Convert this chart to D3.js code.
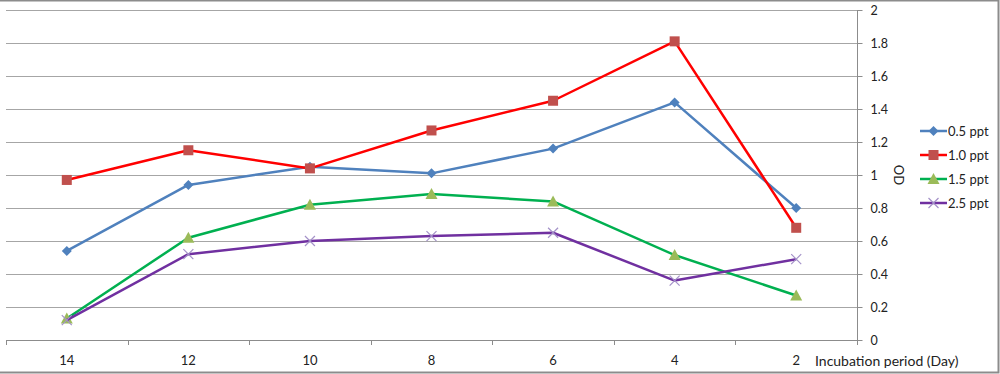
<!DOCTYPE html>
<html>
<head>
<meta charset="utf-8">
<script src="https://cdnjs.cloudflare.com/ajax/libs/d3/7.8.5/d3.min.js"></script>
<style>
  body { margin: 0; background: #fff; }
  svg { display: block; font-family: Lato, "Open Sans", sans-serif; }
</style>
</head>
<body>
<svg id="chart" width="1000" height="374"></svg>
<script>
// data
const days = ["14", "12", "10", "8", "6", "4", "2"];
const od05 = [0.54, 0.94, 1.05, 1.01, 1.16, 1.44, 0.80];
const od10 = [0.97, 1.15, 1.04, 1.27, 1.45, 1.81, 0.68];
const od15 = [0.13, 0.62, 0.82, 0.885, 0.84, 0.515, 0.27];
const od25 = [0.12, 0.52, 0.60, 0.63, 0.65, 0.36, 0.49];
const yTicks = [0, 0.2, 0.4, 0.6, 0.8, 1, 1.2, 1.4, 1.6, 1.8, 2];

const series = [
  { name: "0.5 ppt", values: od05, line: "#4f81bd", fill: "#4f81bd", marker: "diamond" },
  { name: "1.0 ppt", values: od10, line: "#ff0000", fill: "#c0504d", marker: "square" },
  { name: "1.5 ppt", values: od15, line: "#00b050", fill: "#9bbb59", marker: "triangle" },
  { name: "2.5 ppt", values: od25, line: "#7030a0", fill: "#a492c8", marker: "cross" }
];

const svg = d3.select("#chart");

// outer frame
svg.append("rect").attr("x", -2).attr("y", 0.5).attr("width", 1000.5).attr("height", 372)
  .attr("fill", "none").attr("stroke", "#8c8c8c").attr("stroke-width", 2);

const plotLeft = 6, plotRight = 857, plotTop = 10, plotBottom = 340;

const x = d3.scaleBand().domain(days).range([plotLeft, plotRight]);
const y = d3.scaleLinear().domain([0, 2]).range([plotBottom, plotTop]);

// gridlines
svg.append("g").selectAll("line").data(yTicks.filter(d => d > 0)).enter().append("line")
  .attr("x1", plotLeft).attr("x2", plotRight)
  .attr("y1", d => Math.round(y(d)) + 0.5).attr("y2", d => Math.round(y(d)) + 0.5)
  .attr("stroke", "#a6a6a6").attr("stroke-width", 1.2);

// y axis on the right
const yAxis = svg.append("g").attr("transform", `translate(${plotRight + 0.5},0)`)
  .call(d3.axisRight(y).tickValues(yTicks).tickSize(5).tickPadding(8).tickFormat(d3.format("~g")));
yAxis.select(".domain").attr("stroke", "#8c8c8c").attr("d", `M0,${plotTop}V${plotBottom}`);
yAxis.selectAll(".tick line").attr("stroke", "#8c8c8c");
yAxis.selectAll("text").attr("font-size", 12.5).attr("fill", "#222").attr("font-family", "Lato, sans-serif");

// x axis
const xAxis = svg.append("g").attr("transform", `translate(0,${plotBottom + 0.5})`)
  .call(d3.axisBottom(x).tickSize(0).tickPadding(15));
xAxis.select(".domain").attr("stroke", "#8c8c8c").attr("d", `M${plotLeft},0H${plotRight}`);
xAxis.selectAll("text").attr("font-size", 13).attr("fill", "#222").attr("font-family", "Lato, sans-serif");
// category boundary ticks
svg.append("g").selectAll("line").data(days.concat(["end"])).enter().append("line")
  .attr("x1", (d, i) => Math.round(i < days.length ? x(d) : plotRight) + 0.5)
  .attr("x2", (d, i) => Math.round(i < days.length ? x(d) : plotRight) + 0.5)
  .attr("y1", plotBottom).attr("y2", plotBottom + 5)
  .attr("stroke", "#8c8c8c");

// axis titles
svg.append("text").attr("x", 815).attr("y", 366).attr("font-size", 14).attr("fill", "#222")
  .text("Incubation period (Day)");
svg.append("text").attr("transform", "translate(894,175) rotate(90)")
  .attr("text-anchor", "middle").attr("font-size", 13).attr("fill", "#222").text("OD");

function drawMarker(g, type, fill) {
  if (type === "diamond") {
    g.append("path").attr("d", "M0,-5L5,0L0,5L-5,0Z").attr("fill", fill);
  } else if (type === "square") {
    g.append("rect").attr("x", -5).attr("y", -5).attr("width", 10).attr("height", 10).attr("fill", fill);
  } else if (type === "triangle") {
    g.append("path").attr("d", "M0,-6L6,5L-6,5Z").attr("fill", fill);
  } else {
    g.append("path").attr("d", "M-5,-5L5,5M-5,5L5,-5").attr("stroke", fill).attr("stroke-width", 1.2);
  }
}

const line = d3.line().x((d, i) => x(days[i]) + x.bandwidth() / 2).y(d => y(d));

series.forEach(s => {
  svg.append("path").datum(s.values).attr("fill", "none")
    .attr("stroke", s.line).attr("stroke-width", 2.5).attr("stroke-linejoin", "round").attr("d", line);
  s.values.forEach((v, i) => {
    const g = svg.append("g").attr("transform", `translate(${x(days[i]) + x.bandwidth() / 2},${y(v)})`);
    drawMarker(g, s.marker, s.fill);
  });
});

// legend
const legend = svg.append("g").selectAll("g").data(series).enter().append("g")
  .attr("transform", (d, i) => `translate(920,${131 + i * 24})`);
legend.append("line").attr("x1", 0).attr("x2", 27).attr("y1", 0).attr("y2", 0)
  .attr("stroke", d => d.line).attr("stroke-width", 2.5);
legend.each(function(d) {
  drawMarker(d3.select(this).append("g").attr("transform", "translate(13.5,0)"), d.marker, d.fill);
});
legend.append("text").attr("x", 28).attr("y", 0).attr("dy", "0.35em")
  .attr("font-size", 13).attr("fill", "#222").text(d => d.name);
</script>
</body>
</html>
